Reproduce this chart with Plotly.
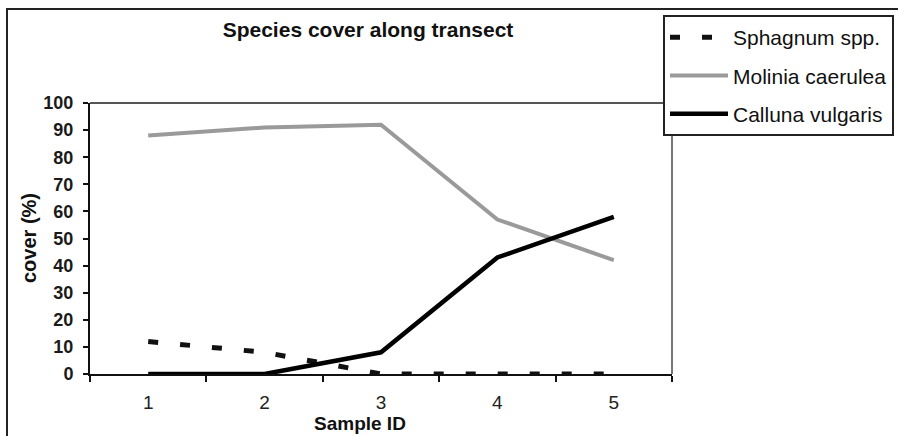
import plotly.graph_objects as go

samples = ["1", "2", "3", "4", "5"]
sphagnum = [12, 8, 0, 0, 0]
molinia = [88, 91, 92, 57, 42]
calluna = [0, 0, 8, 43, 58]
y_ticks = list(range(0, 101, 10))
y_labels = [f"<b>{v}</b>" for v in y_ticks]

W, H = 898, 436
L, R, T, B = 90, 226, 103, 62
pw, ph = W - L - R, H - T - B

def px(x):
    return (x - L) / pw

def py(y):
    return (H - B - y) / ph

FONT = "Liberation Sans, Arial, sans-serif"

fig = go.Figure()
fig.add_trace(go.Scatter(x=samples, y=sphagnum, mode="lines", name="Sphagnum spp.",
                         line=dict(color="#111111", width=5, dash="10px,22px"),
                         legendgroup="a"))
fig.add_trace(go.Scatter(x=samples, y=molinia, mode="lines", name="Molinia caerulea",
                         line=dict(color="#9a9a9a", width=4), legendgroup="b"))
fig.add_trace(go.Scatter(x=samples, y=calluna, mode="lines", name="Calluna vulgaris",
                         line=dict(color="#000000", width=4.5), legendgroup="c"))

fig.update_layout(
    width=W, height=H,
    margin=dict(l=L, r=R, t=T, b=B, autoexpand=False),
    paper_bgcolor="white", plot_bgcolor="white",
    font=dict(family=FONT, color="#111111"),
    title=dict(text="<b>Species cover along transect</b>", xref="container", yref="container",
               x=368 / W, xanchor="center", y=1 - 30 / H, yanchor="middle",
               font=dict(size=21, family=FONT, color="#111111")),
    showlegend=True,
    legend=dict(x=px(663), y=py(15), xanchor="left", yanchor="top",
                bordercolor="#222222", borderwidth=2, bgcolor="white",
                font=dict(size=21, family=FONT, color="#111111"),
                itemwidth=58,
                traceorder="grouped", tracegroupgap=8),
    xaxis=dict(type="category", range=[-0.5, 4.5], tickson="boundaries",
               ticks="outside", ticklen=6, tickwidth=2, tickcolor="#111111",
               showline=True, linecolor="#111111", linewidth=2,
               showgrid=False, zeroline=False, ticklabelstandoff=10,
               tickfont=dict(size=19, family=FONT, color="#222222")),
    yaxis=dict(range=[0, 100], tickvals=y_ticks, ticktext=y_labels, ticks="outside",
               ticklen=5, tickwidth=2,
               tickcolor="#111111", showline=True, linecolor="#111111", linewidth=2,
               showgrid=False, zeroline=False, ticklabelstandoff=6,
               tickfont=dict(size=18, family=FONT, color="#1a1a1a")),
)

# plot frame (top and right) and outer chart border
fig.add_shape(type="line", xref="paper", yref="paper", x0=0, x1=1, y0=1, y1=1,
              line=dict(color="#555555", width=2), layer="below")
fig.add_shape(type="line", xref="paper", yref="paper", x0=1, x1=1, y0=0, y1=1,
              line=dict(color="#777777", width=2), layer="below")
fig.add_shape(type="rect", xref="paper", yref="paper", x0=px(7), x1=px(W + 20),
              y0=py(H + 20), y1=py(9), line=dict(color="#222222", width=2), layer="below")

fig.add_annotation(text="<b>cover (%)</b>", xref="paper", yref="paper", x=px(29), y=py(238),
                   textangle=-90, showarrow=False, xanchor="center", yanchor="middle",
                   font=dict(size=20, family=FONT, color="#111111"))
fig.add_annotation(text="<b>Sample ID</b>", xref="paper", yref="paper", x=px(360), y=py(423),
                   showarrow=False, xanchor="center", yanchor="middle",
                   font=dict(size=19, family=FONT, color="#111111"))

fig.write_html("out.html")
